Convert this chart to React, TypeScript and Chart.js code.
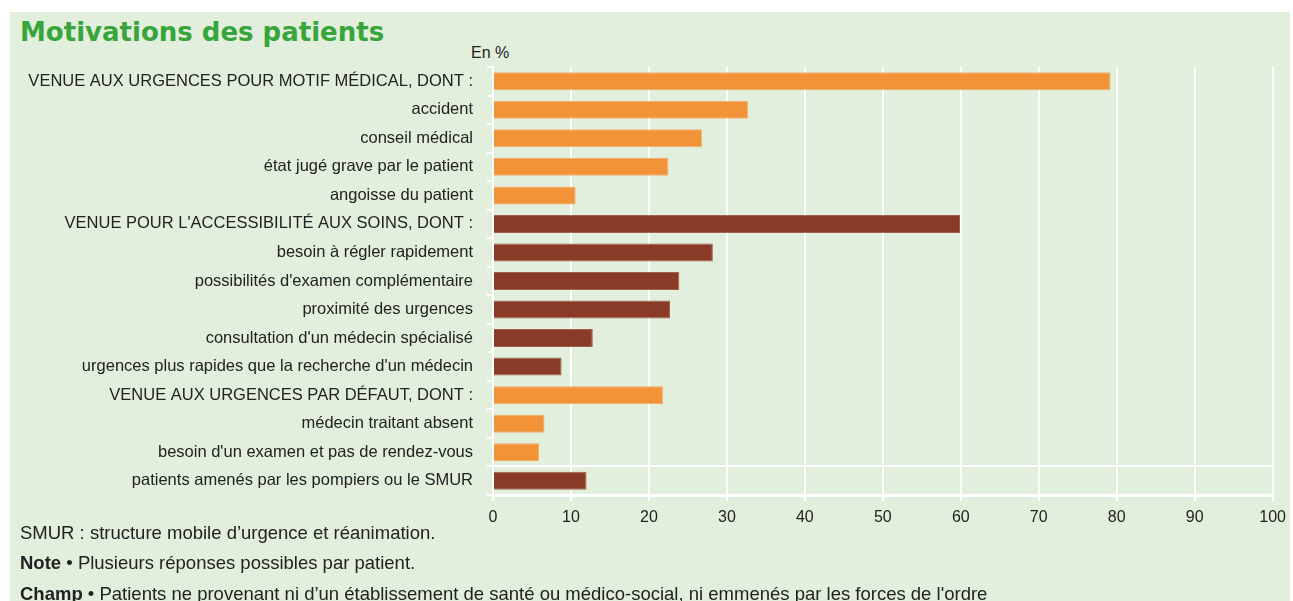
import React, { useEffect, useRef } from "react";
import { Chart, registerables } from "chart.js";

Chart.register(...registerables);

const categories = [
  "VENUE AUX URGENCES POUR MOTIF MÉDICAL, DONT :",
  "accident",
  "conseil médical",
  "état jugé grave par le patient",
  "angoisse du patient",
  "VENUE POUR L'ACCESSIBILITÉ AUX SOINS, DONT :",
  "besoin à régler rapidement",
  "possibilités d'examen complémentaire",
  "proximité des urgences",
  "consultation d'un médecin spécialisé",
  "urgences plus rapides que la recherche d'un médecin",
  "VENUE AUX URGENCES PAR DÉFAUT, DONT :",
  "médecin traitant absent",
  "besoin d'un examen et pas de rendez-vous",
  "patients amenés par les pompiers ou le SMUR",
];

const values = [79.2, 32.7, 26.8, 22.5, 10.6, 59.9, 28.2, 23.9, 22.7, 12.8, 8.8, 21.8, 6.6, 5.9, 12.0];

const groups = [
  "medical", "medical", "medical", "medical", "medical",
  "access", "access", "access", "access", "access", "access",
  "default", "default", "default",
  "smur",
];

const xMin = 0;
const xMax = 100;
const xStep = 10;

const title = "Motivations des patients";
const unitLabel = "En %";

const ORANGE = "#f29337";
const BROWN = "#8a3b27";
const groupColors: Record<string, string> = {
  medical: ORANGE,
  access: BROWN,
  default: ORANGE,
  smur: BROWN,
};
const groupBorders: Record<string, string> = {
  medical: "#f4ad6a",
  access: "#a0604f",
  default: "#f4ad6a",
  smur: "#a0604f",
};

const FONT = "'Liberation Sans', Arial, sans-serif";

function BarChart() {
  const ref = useRef<HTMLCanvasElement | null>(null);
  useEffect(() => {
    if (!ref.current) return;
    const chart = new Chart(ref.current, {
      type: "bar",
      data: {
        labels: categories,
        datasets: [
          {
            data: values,
            backgroundColor: groups.map((g) => groupColors[g]),
            borderColor: groups.map((g) => groupBorders[g]),
            borderWidth: 1,
            barPercentage: 0.63,
            categoryPercentage: 1,
          },
        ],
      },
      options: {
        indexAxis: "y",
        responsive: false,
        animation: false,
        devicePixelRatio: 1,
        layout: { padding: { top: 67, left: 0, right: 20, bottom: 0 } },
        plugins: { legend: { display: false }, tooltip: { enabled: false } },
        scales: {
          x: {
            type: "linear",
            min: xMin,
            max: xMax,
            afterFit: (scale: any) => {
              scale.height = 106;
            },
            ticks: {
              stepSize: xStep,
              color: "#222",
              padding: 7,
              font: { family: FONT, size: 16 },
            },
            grid: {
              color: "#ffffff",
              lineWidth: 2,
              tickColor: "#ffffff",
              tickLength: 6,
            },
            border: { color: "#ffffff", width: 3 },
          },
          y: {
            type: "category",
            afterFit: (scale: any) => {
              scale.width = 493;
            },
            ticks: {
              autoSkip: false,
              color: "#222",
              padding: 14,
              font: { family: FONT, size: 16.5 },
            },
            grid: {
              offset: true,
              color: (ctx: any) => (ctx.index === 14 ? "#ffffff" : "rgba(0,0,0,0)"),
              lineWidth: 2,
              tickColor: "#ffffff",
              tickLength: 6,
            },
            border: { color: "#ffffff", width: 2 },
          },
        },
      },
    } as any);
    return () => chart.destroy();
  }, []);
  return (
    <canvas
      ref={ref}
      width={1293}
      height={601}
      style={{ position: "absolute", left: 0, top: 0, width: 1293, height: 601 }}
    />
  );
}

export default function App() {
  useEffect(() => {
    document.body.style.margin = "0";
  }, []);
  const noteStyle: React.CSSProperties = {
    position: "absolute",
    left: 20,
    fontFamily: FONT,
    fontSize: 18.5,
    lineHeight: "18.5px",
    color: "#222",
    whiteSpace: "nowrap",
  };
  return (
    <div
      style={{
        position: "relative",
        width: 1293,
        height: 601,
        overflow: "hidden",
        background: "#ffffff",
        margin: 0,
      }}
    >
      <div
        style={{
          position: "absolute",
          left: 10,
          top: 12,
          width: 1280,
          height: 600,
          background: "#e2efdc",
        }}
      />
      <div
        style={{
          position: "absolute",
          left: 20,
          top: 19,
          fontFamily: "'DejaVu Sans', Verdana, sans-serif",
          fontWeight: "bold",
          fontSize: 26,
          lineHeight: "26px",
          color: "#38a53b",
          whiteSpace: "nowrap",
        }}
      >
        {title}
      </div>
      <div
        style={{
          position: "absolute",
          left: 471,
          top: 45,
          fontFamily: FONT,
          fontSize: 16,
          lineHeight: "16px",
          color: "#222",
        }}
      >
        {unitLabel}
      </div>
      <BarChart />
      <div style={{ ...noteStyle, top: 524 }}>SMUR : structure mobile d’urgence et réanimation.</div>
      <div style={{ ...noteStyle, top: 554 }}>
        <b>Note</b> • Plusieurs réponses possibles par patient.
      </div>
      <div style={{ ...noteStyle, top: 585 }}>
        <b>Champ</b> • Patients ne provenant ni d’un établissement de santé ou médico-social, ni emmenés par les forces de l'ordre
      </div>
    </div>
  );
}
